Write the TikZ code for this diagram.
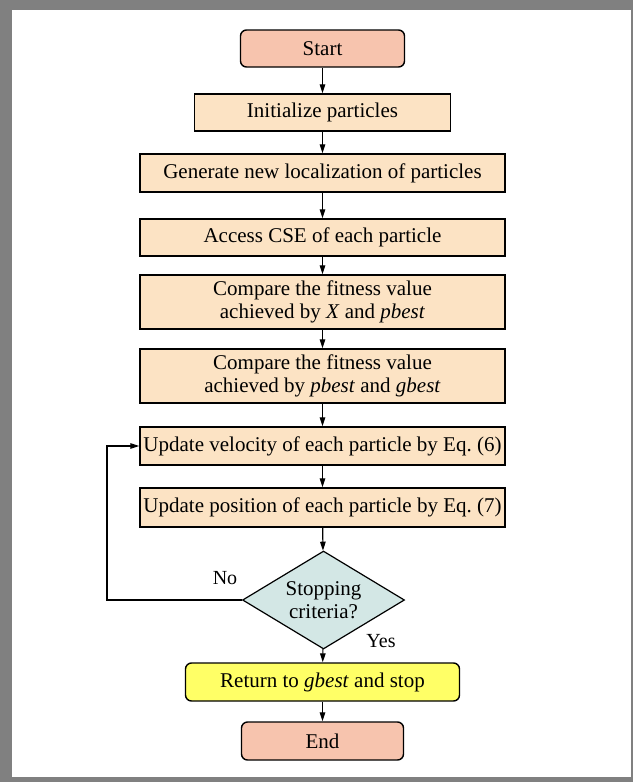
\documentclass[tikz,border=0pt]{standalone}
\usepackage{fontspec}
\setmainfont{Liberation Serif}
\usetikzlibrary{shapes.geometric,arrows.meta}
\definecolor{termfill}{HTML}{F7C4AE}
\definecolor{procfill}{HTML}{FCE3C4}
\definecolor{decfill}{HTML}{D3E7E5}
\definecolor{retfill}{HTML}{FFFF66}
\definecolor{framegray}{HTML}{808080}
\begin{document}
\begin{tikzpicture}[x=1pt,y=-1pt,
  every node/.style={font=\fontsize{21}{23}\selectfont, inner sep=0pt, align=center},
  termbox/.style={draw, line width=1.4pt, rounded corners=6pt, fill=termfill},
  procbox/.style={draw, line width=1.4pt, fill=procfill},
  retbox/.style={draw, line width=1.4pt, rounded corners=6pt, fill=retfill},
  decbox/.style={draw, line width=1.2pt, fill=decfill, diamond, aspect=1.65},
  flow/.style={line width=1.2pt, -{Triangle[length=9pt,width=5.5pt]}},
  lbl/.style={font=\fontsize{20}{22}\selectfont}
]
% frame
\fill[framegray] (0,0) rectangle (633,782);
\fill[white] (12,10) rectangle (631,777);
\useasboundingbox (0,0) rectangle (633,782);

% nodes
\node[termbox, minimum width=164pt, minimum height=37pt] (start) at (322.5,48.5) {Start};
\node[procbox, minimum width=256pt, minimum height=37pt] (init) at (322.5,112.5) {Initialize particles};
\node[procbox, minimum width=365pt, minimum height=38pt] (gen) at (322.5,173) {Generate new localization of particles};
\node[procbox, minimum width=365pt, minimum height=37pt] (acc) at (322.5,237.5) {Access CSE of each particle};
\node[procbox, minimum width=365pt, minimum height=54pt] (cmpx) at (322.5,302) {Compare the fitness value\\achieved by \textit{X} and \textit{pbest}};
\node[procbox, minimum width=365pt, minimum height=54pt] (cmpg) at (322.5,376) {Compare the fitness value\\achieved by \textit{pbest} and \textit{gbest}};
\node[procbox, minimum width=365pt, minimum height=38pt] (vel) at (322.5,446) {Update velocity of each particle by Eq.~(6)};
\node[procbox, minimum width=365pt, minimum height=39pt] (pos) at (322.5,507.5) {Update position of each particle by Eq.~(7)};
\node[decbox, minimum width=162pt, minimum height=98pt] (stop) at (323.5,600) {Stopping\\criteria?};
\node[retbox, minimum width=274pt, minimum height=38pt] (ret) at (322.5,682) {Return to \textit{gbest} and stop};
\node[termbox, minimum width=162pt, minimum height=38pt] (end) at (322.5,741) {End};

\node[lbl] (nolbl) at (225,578) {No};
\node[lbl] (yeslbl) at (381,641) {Yes};
\coordinate (loopa) at (107,600);
\coordinate (loopb) at (107,446);

% connectors
\draw[flow] (start) -- (init);
\draw[flow] (init) -- (gen);
\draw[flow] (gen) -- (acc);
\draw[flow] (acc) -- (cmpx);
\draw[flow] (cmpx) -- (cmpg);
\draw[flow] (cmpg) -- (vel);
\draw[flow] (vel) -- (pos);
\draw[flow] (pos) -- (stop);
\draw[flow] (stop) -- (ret);
\draw[flow] (ret) -- (end);
\draw[flow] (stop.west) -- (loopa) -- (loopb) -- (vel.west);
\end{tikzpicture}
\end{document}
